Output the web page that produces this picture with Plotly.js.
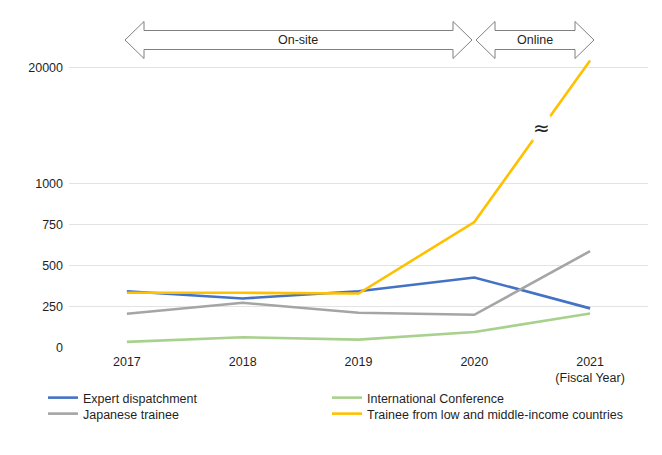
<!DOCTYPE html>
<html>
<head>
<meta charset="utf-8">
<script src="https://cdn.plot.ly/plotly-3.0.1.min.js"></script>
<style>
  html, body { margin: 0; padding: 0; background: #fff; }
  #chart { width: 662px; height: 455px; }
</style>
</head>
<body>
<div id="chart"></div>
<script>
const years = ['2017', '2018', '2019', '2020', '2021']
const yearLabels = ['2017', '2018', '2019', '2020', '2021<br>(Fiscal Year)']
const expert = [344, 300, 344, 428, 240]
const conference = [36, 64, 50, 96, 209]
const japanese = [207, 274, 213, 201, 588]
const trainee = [335, 335, 330, 765, 21100]
const yTicks = [0, 250, 500, 750, 1000, 20000]

// broken axis: linear up to 1000, compressed above
const BREAK = 1000
const SQUEEZE = 707 / 19000
function squash(v) {
    return v <= BREAK ? v : BREAK + (v - BREAK) * SQUEEZE
}

// plot box in pixels, for placing the arrows and legends
const W = 662, H = 455
const M = {l: 69, r: 14, t: 15, b: 107}
const pw = W - M.l - M.r, ph = H - M.t - M.b
const px = x => (x - M.l) / pw
const py = y => (H - M.b - y) / ph

function doubleArrow(x0, x1, yc) {
    const head = 19, outer = 18.5, shaft = 9.5
    const pts = [
        [x0, yc], [x0 + head, yc - outer], [x0 + head, yc - shaft],
        [x1 - head, yc - shaft], [x1 - head, yc - outer], [x1, yc],
        [x1 - head, yc + outer], [x1 - head, yc + shaft],
        [x0 + head, yc + shaft], [x0 + head, yc + outer]
    ]
    return {
        type: 'path',
        xref: 'paper',
        yref: 'paper',
        path: 'M' + pts.map(p => px(p[0]) + ',' + py(p[1])).join('L') + 'Z',
        line: {color: '#7f7f7f', width: 1},
        fillcolor: '#ffffff'
    }
}

function series(name, values, color, legend) {
    return {
        x: years,
        y: values.map(squash),
        customdata: values,
        hovertemplate: '%{customdata}<extra>' + name + '</extra>',
        type: 'scatter',
        mode: 'lines',
        name: name,
        legend: legend,
        line: {color: color, width: 2.6}
    }
}

const data = [
    series('Expert dispatchment', expert, '#4472C4', 'legend'),
    series('International Conference', conference, '#A9D18E', 'legend2'),
    series('Japanese trainee', japanese, '#A5A5A5', 'legend3'),
    series('Trainee from low and middle-income countries', trainee, '#FFC000', 'legend4')
]

// where the break mark sits on the last yellow segment
const f = 0.583
const breakX = 3 + f
const breakY = squash(trainee[3]) + f * (squash(trainee[4]) - squash(trainee[3]))

const font = {family: 'Liberation Sans, Arial, sans-serif', size: 12.5, color: '#1f1f1f'}

// one legend per entry so the rows sit as tight as in the reference
function legendAt(textX, rowY) {
    return {
        orientation: 'v',
        xref: 'paper',
        yref: 'container',
        x: px(textX - 40),
        y: 1 - rowY / H,
        xanchor: 'left',
        yanchor: 'middle',
        font: font,
        bgcolor: 'rgba(0,0,0,0)'
    }
}

const layout = {
    width: W,
    height: H,
    margin: M,
    paper_bgcolor: '#fff',
    plot_bgcolor: '#fff',
    font: font,
    showlegend: true,
    legend: legendAt(83, 398),
    legend2: legendAt(367, 398),
    legend3: legendAt(83, 414),
    legend4: legendAt(367, 414),
    xaxis: {
        type: 'category',
        range: [-0.5, 4.5],
        tickvals: years,
        ticktext: yearLabels,
        showgrid: false,
        zeroline: false,
        showline: false,
        ticks: '',
        ticklabelstandoff: 4,
        tickfont: font,
        fixedrange: true
    },
    yaxis: {
        range: [-1, 2024],
        tickvals: yTicks.map(squash),
        ticktext: yTicks.map(String),
        showgrid: true,
        gridcolor: '#e3e3e3',
        gridwidth: 1,
        zeroline: false,
        showline: false,
        ticks: '',
        ticklabelstandoff: 5,
        tickfont: font,
        fixedrange: true
    },
    shapes: [
        doubleArrow(125, 472, 40),
        doubleArrow(476, 594, 40)
    ],
    annotations: [
        {xref: 'paper', yref: 'paper', x: px(298), y: py(40), xanchor: 'center', yanchor: 'middle',
         text: 'On-site', showarrow: false, font: font},
        {xref: 'paper', yref: 'paper', x: px(535), y: py(40), xanchor: 'center', yanchor: 'middle',
         text: 'Online', showarrow: false, font: font},
        {
            x: breakX, y: breakY, xref: 'x', yref: 'y',
            text: '≈', showarrow: false, bgcolor: '#ffffff', borderpad: 0,
            font: {family: 'DejaVu Sans, sans-serif', size: 20, color: '#1f1f1f'}
        }
    ]
}

Plotly.newPlot('chart', data, layout, {displayModeBar: false, staticPlot: true})
</script>
</body>
</html>
